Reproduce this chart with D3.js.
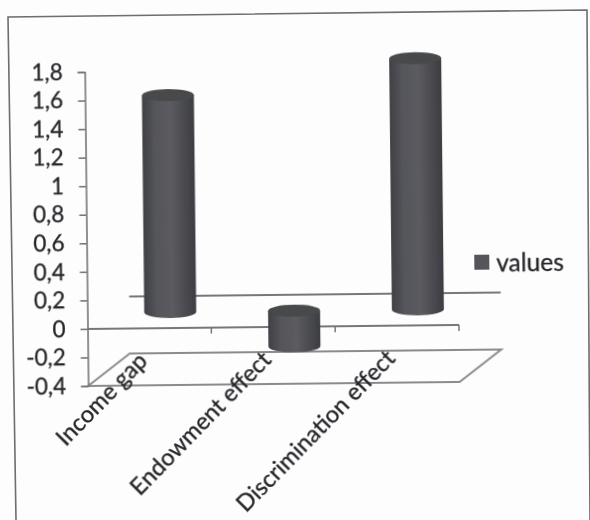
<!DOCTYPE html>
<html>
<head>
<meta charset="utf-8">
<script src="https://cdn.jsdelivr.net/npm/d3@7"></script>
<style>
html, body { margin: 0; padding: 0; background: #fdfdfd; }
svg { display: block; }
text { font-family: Lato, "Open Sans", sans-serif; fill: #26262a; stroke: #26262a; stroke-width: 0.3; }
</style>
</head>
<body>
<svg id="chart" width="590" height="520"></svg>
<script>
var categories = ['Income gap', 'Endowment effect', 'Discrimination effect'];
var values = [1.52, -0.25, 1.76];
var yTicks = [1.8, 1.6, 1.4, 1.2, 1, 0.8, 0.6, 0.4, 0.2, 0, -0.2, -0.4];
var seriesName = 'values';

var DEPTH_X = 42, DEPTH_Y = -32;   // floor offset of the fake 3d box
var TILT = -0.62;                  // the scan is slightly rotated
var LINE = '#77777a';
var FONT = 'Lato, "Open Sans", sans-serif';

var svg = d3.select('#chart');
var defs = svg.append('defs');

// scan softness
defs.append('filter').attr('id', 'soft')
    .append('feGaussianBlur').attr('stdDeviation', 0.45);

var grad = defs.append('linearGradient').attr('id', 'cyl');
[[0, '#3f4045'], [0.25, '#55565b'], [0.55, '#5b5b60'], [1, '#3c3d42']].forEach(function (s) {
    grad.append('stop').attr('offset', s[0]).attr('stop-color', s[1]);
});

// page frame, it has its own skew in the scan
svg.append('path')
    .attr('d', 'M16,520 L8,17 L587,10 L590,520')
    .attr('fill', 'none').attr('stroke', '#6d6d72').attr('stroke-width', 1.6)
    .attr('filter', 'url(#soft)');

var root = svg.append('g')
    .attr('transform', 'rotate(' + TILT + ' 85 329)')
    .attr('filter', 'url(#soft)');

var y = d3.scaleLinear().domain([-0.4, 1.8]).range([386, 72]);
var x = d3.scaleBand().domain(categories).range([87.5, 459]);

// floor
var x0 = x.range()[0], x1 = x.range()[1];
root.append('path')
    .attr('d', 'M' + x0 + ',' + y(-0.4) + ' L' + (x0 + DEPTH_X) + ',' + (y(-0.4) + DEPTH_Y) +
        ' L' + (x1 + DEPTH_X) + ',' + (y(-0.4) + DEPTH_Y) + ' L' + x1 + ',' + y(-0.4) + ' Z')
    .attr('fill', 'none').attr('stroke', '#8b8b8e').attr('stroke-width', 2);

// back zero line
root.append('line')
    .attr('x1', x0 + DEPTH_X).attr('x2', x1 + DEPTH_X)
    .attr('y1', y(0) + DEPTH_Y).attr('y2', y(0) + DEPTH_Y)
    .attr('stroke', LINE).attr('stroke-width', 2);

// front zero line with category ticks
root.append('line')
    .attr('x1', x0).attr('x2', x1).attr('y1', y(0)).attr('y2', y(0))
    .attr('stroke', LINE).attr('stroke-width', 2);
categories.forEach(function (c) {
    var tx = x(c) + x.bandwidth();
    root.append('line').attr('x1', tx).attr('x2', tx)
        .attr('y1', y(0)).attr('y2', y(0) + 6)
        .attr('stroke', LINE).attr('stroke-width', 1.5);
});

// value axis
var axisG = root.append('g').attr('transform', 'translate(' + x0 + ',0)')
    .call(d3.axisLeft(y).tickValues(yTicks).tickSize(7).tickPadding(15)
        .tickFormat(function (d) { return String(d).replace('.', ','); }));
axisG.selectAll('path, line').attr('stroke', LINE).attr('stroke-width', 1.6);
axisG.selectAll('text').attr('font-size', 22.5).style('fill', '#26262a')
    .style('font-family', FONT);

// cylinders
var RX = 26, RY = 6;
var cyl = root.selectAll('.cyl').data(categories).enter().append('g').attr('class', 'cyl');
cyl.each(function (c, i) {
    var g = d3.select(this);
    var cx = x(c) + x.bandwidth() / 2 + DEPTH_X / 2;
    var yA = y(values[i]) + DEPTH_Y / 2;
    var yB = y(0) + DEPTH_Y / 2;
    var top = Math.min(yA, yB), bot = Math.max(yA, yB);
    g.append('path')
        .attr('d', 'M' + (cx - RX) + ',' + top + ' L' + (cx - RX) + ',' + bot +
            ' A' + RX + ',' + RY + ' 0 0 0 ' + (cx + RX) + ',' + bot +
            ' L' + (cx + RX) + ',' + top + ' Z')
        .attr('fill', 'url(#cyl)');
    g.append('ellipse').attr('cx', cx).attr('cy', top).attr('rx', RX).attr('ry', RY)
        .attr('fill', '#47484c');
});

// category labels, end anchored near the floor
categories.forEach(function (c) {
    var lx = x(c) + x.bandwidth() / 2 - 14;
    root.append('text')
        .attr('transform', 'translate(' + lx + ',' + (y(-0.4) - 36) + ') rotate(-45)')
        .attr('text-anchor', 'end').attr('dominant-baseline', 'hanging')
        .attr('font-size', 23.5).text(c);
});

// legend
root.append('rect').attr('x', 475).attr('y', 259).attr('width', 15).attr('height', 15).attr('fill', '#55565a');
root.append('text').attr('x', 497).attr('y', 276).attr('font-size', 24.5).text(seriesName);
</script>
</body>
</html>
